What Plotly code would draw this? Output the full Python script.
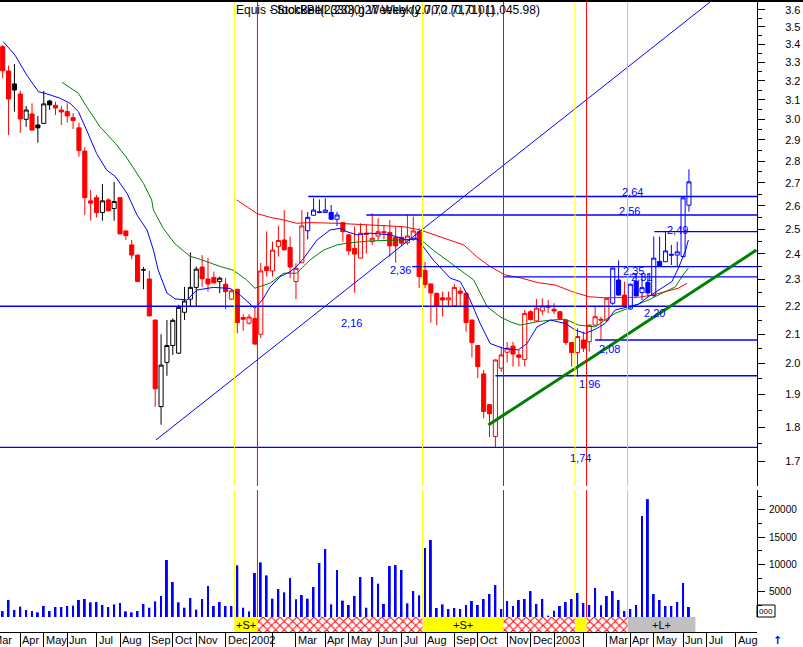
import math
import pandas as pd
import plotly.graph_objects as go

# ---------------- data ----------------
start = pd.Timestamp("2001-03-16")
n_weeks = 118
dates = pd.date_range(start, periods=n_weeks, freq="7D")

open_ = [3.386, 3.252, 3.183, 3.130, 3.001, 3.028, 2.973, 2.981, 3.094, 3.072,
         3.048, 3.040, 3.010, 2.959, 2.847, 2.621, 2.635, 2.571, 2.625, 2.588,
         2.635, 2.493, 2.436, 2.395, 2.337, 2.302, 2.150, 1.862, 2.004, 2.061,
         2.035, 2.178, 2.226, 2.270, 2.348, 2.302, 2.308, 2.292, 2.282, 2.226,
         2.263, 2.159, 2.139, 2.156, 2.100, 2.349, 2.333, 2.429, 2.456, 2.426,
         2.292, 2.365, 2.494, 2.559, 2.574, 2.571, 2.571, 2.542, 2.528, 2.477,
         2.422, 2.383, 2.484, 2.449, 2.472, 2.490, 2.487, 2.467, 2.467, 2.445,
         2.463, 2.490, 2.335, 2.283, 2.248, 2.231, 2.223, 2.201, 2.256, 2.248,
         2.150, 2.061, 1.966, 1.868, 1.772, 1.985, 2.038, 2.059, 2.029, 2.014,
         2.180, 2.147, 2.183, 2.201, 2.189, 2.180, 2.150, 2.071, 2.037, 2.080,
         2.074, 2.132, 2.153, 2.150, 2.211, 2.298, 2.241, 2.190, 2.292, 2.251,
         2.289, 2.239, 2.370, 2.369, 2.398, 2.395, 2.389, 2.602]
high_ = [3.396, 3.281, 3.290, 3.147, 3.068, 3.082, 3.018, 3.146, 3.100, 3.090,
         3.068, 3.082, 3.032, 2.985, 2.866, 2.669, 2.647, 2.695, 2.632, 2.705,
         2.637, 2.495, 2.456, 2.397, 2.348, 2.334, 2.152, 2.100, 2.150, 2.156,
         2.205, 2.272, 2.406, 2.350, 2.395, 2.384, 2.330, 2.311, 2.306, 2.263,
         2.264, 2.171, 2.171, 2.192, 2.364, 2.491, 2.449, 2.514, 2.581, 2.470,
         2.363, 2.581, 2.573, 2.632, 2.627, 2.632, 2.603, 2.574, 2.530, 2.479,
         2.511, 2.525, 2.518, 2.567, 2.546, 2.518, 2.539, 2.511, 2.511, 2.560,
         2.553, 2.504, 2.368, 2.285, 2.249, 2.254, 2.254, 2.283, 2.272, 2.250,
         2.152, 2.063, 1.979, 1.870, 2.014, 2.057, 2.073, 2.074, 2.046, 2.186,
         2.186, 2.226, 2.229, 2.223, 2.211, 2.182, 2.152, 2.073, 2.121, 2.109,
         2.134, 2.198, 2.162, 2.231, 2.346, 2.374, 2.292, 2.284, 2.324, 2.324,
         2.324, 2.470, 2.470, 2.490, 2.436, 2.449, 2.636, 2.762]
low_ = [3.213, 2.924, 3.040, 2.935, 2.964, 2.945, 2.887, 2.978, 3.048, 3.023,
        2.973, 2.985, 2.953, 2.820, 2.560, 2.536, 2.550, 2.536, 2.576, 2.536,
        2.479, 2.456, 2.379, 2.290, 2.263, 2.163, 1.862, 1.807, 1.960, 2.029,
        2.033, 2.150, 2.198, 2.199, 2.272, 2.254, 2.285, 2.248, 2.189, 2.224,
        2.103, 2.112, 2.134, 2.064, 2.086, 2.311, 2.311, 2.389, 2.414, 2.305,
        2.226, 2.363, 2.459, 2.557, 2.567, 2.569, 2.540, 2.514, 2.449, 2.395,
        2.250, 2.381, 2.402, 2.436, 2.456, 2.459, 2.389, 2.365, 2.432, 2.436,
        2.452, 2.267, 2.268, 2.141, 2.132, 2.162, 2.201, 2.199, 2.201, 2.109,
        2.020, 1.952, 1.826, 1.770, 1.738, 1.973, 2.003, 1.990, 1.990, 1.990,
        2.148, 2.143, 2.168, 2.174, 2.171, 2.150, 2.063, 1.990, 1.957, 2.039,
        2.040, 2.130, 2.080, 2.143, 2.205, 2.239, 2.200, 2.186, 2.236, 2.223,
        2.235, 2.235, 2.351, 2.367, 2.356, 2.352, 2.387, 2.574]
close_ = [3.253, 3.104, 3.151, 3.003, 3.048, 2.948, 2.959, 3.079, 3.074, 3.058,
          3.038, 3.018, 2.995, 2.849, 2.635, 2.611, 2.570, 2.621, 2.578, 2.618,
          2.481, 2.474, 2.395, 2.292, 2.337, 2.165, 1.918, 1.995, 2.061, 2.149,
          2.196, 2.219, 2.270, 2.340, 2.303, 2.283, 2.287, 2.305, 2.254, 2.257,
          2.141, 2.153, 2.161, 2.066, 2.333, 2.334, 2.415, 2.454, 2.416, 2.348,
          2.343, 2.514, 2.550, 2.581, 2.571, 2.581, 2.542, 2.560, 2.490, 2.412,
          2.399, 2.484, 2.480, 2.463, 2.490, 2.486, 2.432, 2.432, 2.443, 2.472,
          2.493, 2.311, 2.281, 2.249, 2.201, 2.223, 2.231, 2.270, 2.248, 2.141,
          2.071, 1.990, 1.847, 1.840, 2.012, 2.029, 2.052, 2.032, 2.021, 2.174,
          2.152, 2.193, 2.201, 2.196, 2.183, 2.156, 2.071, 2.037, 2.092, 2.052,
          2.132, 2.162, 2.150, 2.229, 2.344, 2.241, 2.202, 2.282, 2.238, 2.269,
          2.249, 2.383, 2.353, 2.412, 2.395, 2.408, 2.634, 2.705]
# expert colouring of each weekly bar: r = bearish, k = neutral, b = bullish
bar_tone = list("rrkrkrkkkr" "rrrrrrrkrk" "rrrrkrrkkk" "kkkkrrrkrr"
                "rrrrrrrrrr" "rrbbbbbbrr" "rrrrrrrrrr" "rrrrrrrrrr"
                "rrrrrrrrrr" "rrrrrrrrrr" "rrrrbbrbbb" "bbbbbbbb")
volume = [1460, 3480, 1650, 2260, 1650, 1460, 1220, 2380, 1460, 2200,
          2200, 2380, 2440, 3480, 3660, 3050, 3110, 2560, 2200, 2680,
          2930, 1400, 1220, 1460, 2750, 2070, 3230, 4210, 10800, 6770,
          3050, 2070, 3840, 1710, 3660, 6040, 2380, 3110, 2380, 2380,
          9820, 2070, 1400, 8420, 10370, 7990, 3720, 5490, 4880, 7500,
          3600, 4390, 3720, 5860, 10250, 12810, 2680, 8970, 3360, 2560,
          4210, 7690, 2070, 7690, 6470, 2750, 9700, 9880, 8970, 2870,
          5120, 4330, 12990, 14460, 2010, 2680, 1830, 2010, 1830, 2560,
          3290, 2560, 3660, 4575, 6220, 1830, 3290, 2380, 3480, 3660,
          5120, 2750, 3660, 610, 1525, 2380, 3110, 3660, 4760, 2930,
          2560, 5670, 2500, 4210, 5120, 3480, 1460, 1830, 2560, 18850,
          21960, 4575, 3480, 2380, 2380, 3110, 6590, 2200]

# moving averages (week position, price)
ma_short_wk = [0.1, 2.1, 4.1, 6.1, 7.2, 9.8, 11.5, 12.9, 14.3, 16.0, 17.7, 19.2, 21.2, 22.9,
               24.6, 25.7, 26.5, 28.0, 29.4, 31.4, 33.1, 35.9, 38.8, 40.5, 43.0, 44.4, 45.6,
               47.3, 49.0, 50.1, 51.3, 53.6, 55.8, 57.5, 58.7, 60.4, 62.6, 66.1, 68.9, 70.6,
               71.7, 73.4, 76.3, 78.0, 79.7, 81.4, 83.1, 85.4, 87.9, 89.4, 91.1, 93.4, 95.9,
               97.6, 99.3, 101.0, 102.7, 104.4, 106.7, 108.4, 110.1, 112.4, 114.1, 115.2,
               116.4, 116.9]
ma_short = [3.414, 3.339, 3.230, 3.142, 3.134, 3.108, 3.082, 3.040, 2.948, 2.836, 2.759,
            2.729, 2.654, 2.560, 2.497, 2.415, 2.337, 2.249, 2.227, 2.223, 2.260, 2.270,
            2.266, 2.241, 2.192, 2.227, 2.272, 2.311, 2.330, 2.350, 2.382, 2.456, 2.497,
            2.504, 2.490, 2.477, 2.484, 2.477, 2.456, 2.463, 2.429, 2.376, 2.305, 2.292,
            2.223, 2.138, 2.068, 2.051, 2.046, 2.068, 2.126, 2.150, 2.138, 2.115, 2.103,
            2.117, 2.138, 2.186, 2.198, 2.208, 2.235, 2.266, 2.292, 2.344, 2.412, 2.456]
ma_mid_wk = [10.1, 12.9, 14.3, 16.6, 19.2, 21.2, 24.0, 25.4, 25.7, 27.4, 29.4, 31.9, 33.7,
             34.8, 37.1, 39.3, 41.6, 43.0, 45.6, 47.9, 50.1, 52.4, 54.7, 57.0, 58.7, 62.6,
             68.3, 71.2, 73.4, 76.9, 80.3, 82.6, 84.8, 86.5, 88.2, 91.1, 93.4, 95.9, 98.2,
             101.0, 102.7, 104.4, 107.3, 110.1, 112.4, 114.7, 115.8, 116.9]
ma_mid = [3.192, 3.134, 3.065, 2.964, 2.884, 2.813, 2.698, 2.625, 2.581, 2.503, 2.440,
          2.391, 2.378, 2.369, 2.350, 2.336, 2.298, 2.267, 2.286, 2.324, 2.324, 2.376,
          2.415, 2.436, 2.443, 2.452, 2.456, 2.459, 2.415, 2.356, 2.298, 2.198, 2.162,
          2.144, 2.132, 2.144, 2.150, 2.153, 2.132, 2.126, 2.150, 2.174, 2.198, 2.223,
          2.248, 2.272, 2.311, 2.344]
ma_long_wk = [39.9, 41.6, 43.3, 45.6, 47.9, 50.1, 52.4, 57.0, 62.6, 68.3, 71.2, 75.1, 78.6,
              80.8, 83.1, 85.6, 88.5, 91.2, 94.2, 97.1, 99.9, 102.7, 105.6, 108.4, 110.7,
              113.0, 115.2, 116.7]
ma_long = [2.625, 2.596, 2.567, 2.550, 2.539, 2.525, 2.528, 2.525, 2.518, 2.511, 2.497,
           2.463, 2.436, 2.389, 2.350, 2.318, 2.305, 2.288, 2.279, 2.254, 2.235, 2.231,
           2.233, 2.233, 2.241, 2.254, 2.267, 2.286]

# trend lines (week position, price)
trend_up_wk, trend_up = [26.15, 120.6], [1.762, 3.647]
trend_support_wk, trend_support = [82.8, 128.5], [1.806, 2.415]

# horizontal price levels and the week they start from
levels = [2.64, 2.56, 2.49, 2.35, 2.31, 2.20, 2.08, 1.96, 1.74]
level_start_wk = [52.1, 62.0, 111.1, 69.8, 85.4, -1.0, 101.0, 84.0, -1.0]
level_labels = ["2,64", "2,56", "2,49", "2,36", "2,35", "2,31", "2,16", "2,20", "2,08", "1.96", "1,74"]
level_label_wk = [107.3, 106.8, 115.0, 67.9, 107.6, 108.9, 59.4, 111.1, 103.5, 100.0, 98.5]
level_label_price = [2.660, 2.578, 2.497, 2.335, 2.333, 2.309, 2.140, 2.176, 2.049, 1.932, 1.711]

# expert signals (week position) and signal bands
signal_wk = [39.5, 43.43, 71.57, 85.38, 97.56, 99.54, 106.53]
signal_color = ["#ffff00", "#ff0000", "#ffff00", "#ff0000", "#ffff00", "#ff0000", "#c0c0c0"]
band_start = [39.5, 43.43, 71.57, 85.38, 97.56, 99.54, 106.53]
band_end = [43.43, 71.57, 85.38, 97.56, 99.54, 106.53, 118.1]
band_kind = ["short", "exit", "short", "exit", "short", "exit", "long"]
band_text = ["+S+", "", "+S+", "", "", "", "+L+"]

month_tick_dates = ["2001-03-02", "2001-04-06", "2001-05-04", "2001-06-01", "2001-07-06",
                    "2001-08-03", "2001-09-07", "2001-10-05", "2001-11-02", "2001-12-07",
                    "2002-01-04", "2002-02-01", "2002-03-01", "2002-04-05", "2002-05-03",
                    "2002-06-07", "2002-07-05", "2002-08-02", "2002-09-06", "2002-10-04",
                    "2002-11-08", "2002-12-06", "2003-01-03", "2003-02-07", "2003-03-07",
                    "2003-04-04", "2003-05-02", "2003-06-06", "2003-07-04", "2003-08-08"]
month_labels = ["Mar", "Apr", "May", "Jun", "Jul", "Aug", "Sep", "Oct", "Nov", "Dec",
                "2002", "", "Mar", "Apr", "May", "Jun", "Jul", "Aug", "Sep", "Oct",
                "Nov", "Dec", "2003", "", "Mar", "Apr", "May", "Jun", "Jul", "Aug"]

price_ticks = [1.7, 1.8, 1.9, 2.0, 2.1, 2.2, 2.3, 2.4, 2.5, 2.6, 2.7, 2.8, 2.9, 3.0,
               3.1, 3.2, 3.3, 3.4, 3.5, 3.6]
volume_ticks = [5000, 10000, 15000, 20000]

# two overlapping header texts, as in the original screen
title_texts = ["Equis - StockBell (2330) Weekly (2.70,2.71,0.01)",
               "StockBell(2330),g27 Weekly 0,70 (0,71) (1,045.98)"]
title_left_px = [234, 268]

# ---------------- helpers ----------------
def wk(w):
    return start + pd.to_timedelta(w * 7, unit="D")

X0 = pd.Timestamp("2001-03-12 18:40")
X1 = pd.Timestamp("2003-09-02 05:00")
W, H = 803, 647
ML, MR, MT, MB = 0, 46, 2, 15
PW, PH = W - ML - MR, H - MT - MB


def xfrac(d):
    return (pd.Timestamp(d) - X0) / (X1 - X0)


def yfrac(py):
    return (H - MB - py) / PH


FONT = "Liberation Sans, Arial, sans-serif"
DAY_MS = 86400000

fig = go.Figure()

# candles by expert tone
tones = {"r": "#ff0000", "k": "#000000", "b": "#0000ff"}
for key, col in tones.items():
    idx = [i for i, t in enumerate(bar_tone) if t == key]
    fig.add_trace(go.Candlestick(
        x=[dates[i] for i in idx],
        open=[open_[i] for i in idx], high=[high_[i] for i in idx],
        low=[low_[i] for i in idx], close=[close_[i] for i in idx],
        increasing=dict(line=dict(color=col, width=1), fillcolor="white"),
        decreasing=dict(line=dict(color=col, width=1), fillcolor=col),
        whiskerwidth=0, showlegend=False, hoverinfo="skip", yaxis="y"))

# moving averages
for wks, vals, col in [(ma_long_wk, ma_long, "#ff0000"), (ma_mid_wk, ma_mid, "#008000"),
                       (ma_short_wk, ma_short, "#0000ff")]:
    fig.add_trace(go.Scatter(x=[wk(w) for w in wks], y=vals, mode="lines",
                             line=dict(color=col, width=1), showlegend=False,
                             hoverinfo="skip", yaxis="y"))

# levels
for lv, s in zip(levels, level_start_wk):
    fig.add_trace(go.Scatter(x=[wk(s), X1], y=[lv, lv], mode="lines",
                             line=dict(color="#0000ff", width=1.3), showlegend=False,
                             hoverinfo="skip", yaxis="y"))

# trend lines
fig.add_trace(go.Scatter(x=[wk(w) for w in trend_up_wk], y=trend_up, mode="lines",
                         line=dict(color="#0000ff", width=1), showlegend=False,
                         hoverinfo="skip", yaxis="y"))
fig.add_trace(go.Scatter(x=[wk(w) for w in trend_support_wk], y=trend_support, mode="lines",
                         line=dict(color="#008000", width=3), showlegend=False,
                         hoverinfo="skip", yaxis="y"))

# volume
fig.add_trace(go.Bar(x=dates, y=volume, width=2.3 * DAY_MS, marker_color="#0000ff",
                     marker_line_width=0, showlegend=False, hoverinfo="skip", yaxis="y2"))

# signal band strip: solid bands and red hatched exit bands
band_fill = {"short": "#ffff00", "long": "#c0c0c0"}
solid = [i for i, k in enumerate(band_kind) if k != "exit"]
hatched = [i for i, k in enumerate(band_kind) if k == "exit"]
fig.add_trace(go.Bar(
    x=[wk((band_start[i] + band_end[i]) / 2) for i in solid],
    y=[1] * len(solid), base=0,
    width=[(band_end[i] - band_start[i]) * 7 * DAY_MS for i in solid],
    marker=dict(color=[band_fill[band_kind[i]] for i in solid], line_width=0),
    showlegend=False, hoverinfo="skip", yaxis="y3"))
fig.add_trace(go.Bar(
    x=[wk((band_start[i] + band_end[i]) / 2) for i in hatched],
    y=[1] * len(hatched), base=0,
    width=[(band_end[i] - band_start[i]) * 7 * DAY_MS for i in hatched],
    marker=dict(color="#ff0000", line_width=0,
                pattern=dict(shape="x", fillmode="replace", fgcolor="#ff0000",
                             bgcolor="#ffffff", size=6, solidity=0.3)),
    showlegend=False, hoverinfo="skip", yaxis="y3"))

shapes = []
for w, col in zip(signal_wk, signal_color):
    for ref in ["y domain", "y2 domain"]:
        shapes.append(dict(type="line", xref="x", yref=ref, x0=wk(w), x1=wk(w), y0=0, y1=1,
                           line=dict(color=col, width=1), layer="above"))
# top border band
shapes.append(dict(type="rect", xref="paper", yref="paper", x0=0, x1=W / PW,
                   y0=1.0, y1=1 + MT / PH, fillcolor="black", line_width=0))
# small scale box
shapes.append(dict(type="rect", xref="paper", yref="paper", x0=1.0, x1=(PW + 18) / PW,
                   y0=yfrac(617), y1=yfrac(605), line=dict(color="black", width=1)))

annotations = []
for t, lx in zip(title_texts, title_left_px):
    annotations.append(dict(text=t, xref="paper", yref="paper", x=lx / PW, y=yfrac(10),
                            xanchor="left", yanchor="middle", showarrow=False,
                            font=dict(family=FONT, size=12, color="black")))
for t, w, p in zip(level_labels, level_label_wk, level_label_price):
    annotations.append(dict(text=t, xref="x", yref="y", x=wk(w), y=math.log10(p),
                            xanchor="center", yanchor="middle", showarrow=False,
                            font=dict(family=FONT, size=11, color="#0000ff")))
for t, a, b in zip(band_text, band_start, band_end):
    if t:
        annotations.append(dict(text=t, xref="x", yref="paper", x=wk((a + b) / 2),
                                y=yfrac(624.5), xanchor="center", yanchor="middle",
                                showarrow=False,
                                font=dict(family=FONT, size=11, color="black")))
for d, t in zip(month_tick_dates, month_labels):
    if t:
        annotations.append(dict(text=t, xref="paper", yref="paper", x=xfrac(d) + 1.0 / PW,
                                y=yfrac(632.5), xanchor="left", yanchor="top",
                                showarrow=False, borderpad=0,
                                font=dict(family=FONT, size=11, color="black")))
annotations.append(dict(text="000", xref="paper", yref="paper", x=(PW + 9) / PW,
                        y=yfrac(611), xanchor="center", yanchor="middle", showarrow=False,
                        font=dict(family=FONT, size=8, color="black")))
annotations.append(dict(text="<b>↑</b>", xref="paper", yref="paper", x=(PW + 20) / PW,
                        y=yfrac(640), xanchor="center", yanchor="middle", showarrow=False,
                        font=dict(family="DejaVu Sans", size=11, color="#0000ff")))

fig.update_layout(
    width=W, height=H, margin=dict(l=ML, r=MR, t=MT, b=MB, autoexpand=False),
    paper_bgcolor="white", plot_bgcolor="white", showlegend=False,
    barmode="overlay", boxgap=0.3, boxgroupgap=0,
    font=dict(family=FONT, size=11, color="black"),
    shapes=shapes, annotations=annotations,
    xaxis=dict(type="date", range=[X0, X1], anchor="y3", showgrid=False, zeroline=False,
               showline=True, linecolor="black", linewidth=1,
               tickvals=month_tick_dates, ticks="outside", ticklen=15, tickcolor="black",
               showticklabels=False, rangeslider=dict(visible=False), fixedrange=True),
    yaxis=dict(type="log", domain=[yfrac(486), 1.0],
               range=[math.log10(1.632), math.log10(3.647)], side="right", anchor="x",
               showgrid=False, zeroline=False, showline=True, linecolor="black",
               tickvals=price_ticks, ticktext=[f"{v:.1f}" for v in price_ticks],
               ticks="outside", ticklen=7, tickcolor="black", ticklabelstandoff=18,
               tickfont=dict(family=FONT, size=11, color="black"),
               minor=dict(tickvals=[v + 0.05 for v in price_ticks], ticks="outside",
                          ticklen=4, tickcolor="black")),
    yaxis2=dict(domain=[yfrac(617), yfrac(490)], range=[366, 23626], side="right",
                anchor="x", showgrid=False, zeroline=False, showline=True, linecolor="black",
                tickvals=volume_ticks, ticktext=[str(v) for v in volume_ticks],
                ticks="outside", ticklen=7, tickcolor="black", ticklabelstandoff=2,
                tickfont=dict(family=FONT, size=10, color="black"),
                minor=dict(tickvals=[2500, 7500, 12500, 17500, 22500], ticks="outside",
                           ticklen=4, tickcolor="black")),
    yaxis3=dict(domain=[0, yfrac(617)], range=[0, 1], anchor="x", side="left",
                showgrid=False, zeroline=False, showline=True, linecolor="black",
                showticklabels=False, ticks=""),
)

fig.write_html("out.html", config={"displayModeBar": False},
               post_script="document.body.style.margin='0px';"
                           "document.body.style.padding='0px';")
